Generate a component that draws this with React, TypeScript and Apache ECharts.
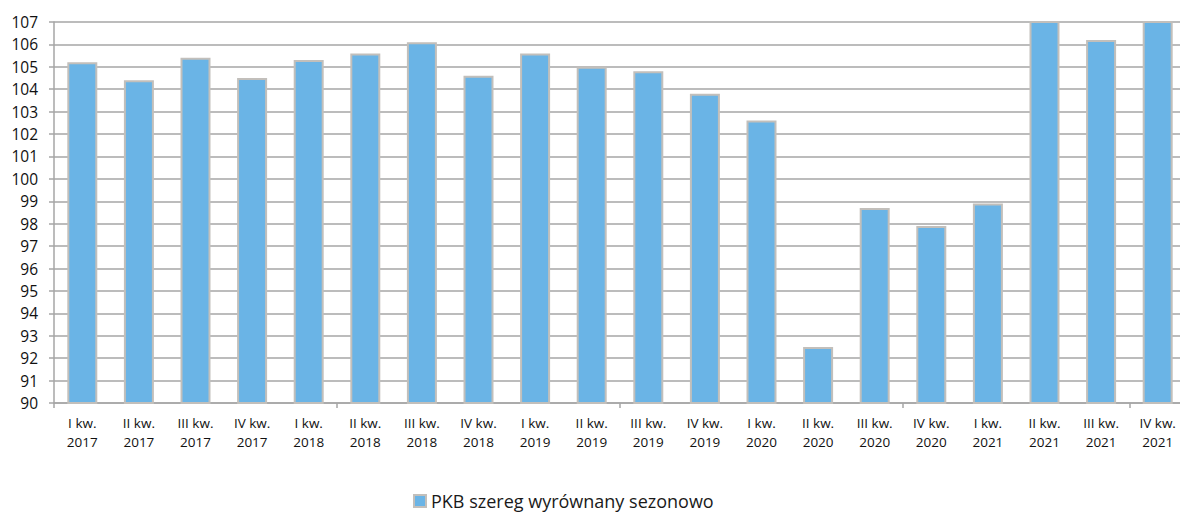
import React, { useEffect, useRef } from "react";
import * as echarts from "echarts";

const categories = [
  "I kw.\n2017", "II kw.\n2017", "III kw.\n2017", "IV kw.\n2017",
  "I kw.\n2018", "II kw.\n2018", "III kw.\n2018", "IV kw.\n2018",
  "I kw.\n2019", "II kw.\n2019", "III kw.\n2019", "IV kw.\n2019",
  "I kw.\n2020", "II kw.\n2020", "III kw.\n2020", "IV kw.\n2020",
  "I kw.\n2021", "II kw.\n2021", "III kw.\n2021", "IV kw.\n2021",
];

const gdpValues = [
  105.2, 104.4, 105.4, 104.5,
  105.3, 105.6, 106.1, 104.6,
  105.6, 105.0, 104.8, 103.8,
  102.6, 92.5, 98.7, 97.9,
  98.9, 110.9, 106.2, 107.6,
];

const seriesName = "PKB szereg wyrównany sezonowo";
const yMin = 90;
const yMax = 107;

export default function App() {
  const ref = useRef<HTMLDivElement>(null);

  useEffect(() => {
    if (!ref.current) return;
    const chart = echarts.init(ref.current, undefined, { renderer: "svg" });
    const font = "'Open Sans', 'Noto Sans', sans-serif";
    chart.setOption({
      animation: false,
      backgroundColor: "#ffffff",
      textStyle: { fontFamily: font },
      grid: { left: 54, width: 1132, top: 22, bottom: 109, containLabel: false },
      legend: {
        left: 413,
        top: 492,
        icon: "rect",
        itemWidth: 12,
        itemHeight: 12,
        padding: 0,
        textStyle: { fontSize: 18, color: "#1a1a1a", fontFamily: font },
        data: [seriesName],
      },
      xAxis: {
        type: "category",
        data: categories,
        boundaryGap: true,
        axisLine: { show: true, lineStyle: { color: "#a6a6a6", width: 1.5 } },
        axisTick: { show: true, interval: 4, length: 5, lineStyle: { color: "#a6a6a6", width: 1.5 } },
        axisLabel: {
          interval: 0,
          fontSize: 13.5,
          lineHeight: 19,
          color: "#111111",
          margin: 10,
          fontFamily: font,
        },
      },
      yAxis: {
        type: "value",
        min: yMin,
        max: yMax,
        interval: 1,
        axisLine: { show: true, lineStyle: { color: "#a6a6a6", width: 1.5 } },
        axisTick: { show: true, length: 5, lineStyle: { color: "#a6a6a6", width: 1.5 } },
        axisLabel: { fontSize: 15.5, color: "#111111", margin: 16, fontFamily: font },
        splitLine: { show: true, lineStyle: { color: "#a6a6a6", width: 1.5 } },
      },
      series: [
        {
          name: seriesName,
          type: "bar",
          data: gdpValues,
          barWidth: 30,
          clip: true,
          itemStyle: {
            color: "#6ab4e6",
            borderColor: "#c2bfbb",
            borderWidth: 2,
          },
        },
      ],
    });
    return () => chart.dispose();
  }, []);

  return (
    <div
      style={{
        position: "absolute",
        left: 0,
        top: 0,
        width: 1180,
        height: 512,
        overflow: "hidden",
        background: "#ffffff",
      }}
    >
      <div ref={ref} style={{ width: 1192, height: 512 }} />
    </div>
  );
}
